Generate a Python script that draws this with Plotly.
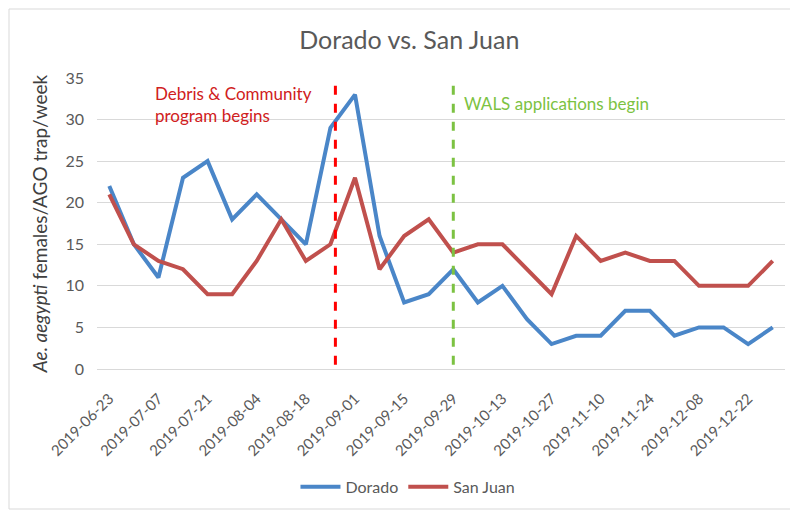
import plotly.graph_objects as go
import pandas as pd

weeks = pd.date_range("2019-06-23", periods=28, freq="7D").strftime("%Y-%m-%d").tolist()
dorado = [22, 15, 11, 23, 25, 18, 21, 18, 15, 29, 33, 16, 8, 9, 12, 8, 10, 6, 3, 4, 4, 7, 7, 4, 5, 5, 3, 5]
san_juan = [21, 15, 13, 12, 9, 9, 13, 18, 13, 15, 23, 12, 16, 18, 14, 15, 15, 12, 9, 16, 13, 14, 13, 13, 10, 10, 10, 13]
event_dates = ["2019-08-26 10:00", "2019-09-29"]
event_labels = ["Debris & Community<br>program begins", "WALS applications begin"]
event_colors = ["#FF0000", "#7CC242"]
label_colors = ["#D02020", "#7CC242"]

FONT = "Lato"
GRAY = "#595959"

W, H = 790, 502
L, R, T, B = 89, 13, 70, 141
PW, PH = W - L - R, H - T - B

fig = go.Figure()
fig.add_trace(go.Scatter(x=weeks, y=dorado, mode="lines", name="Dorado",
                         line=dict(color="#4A86C8", width=4)))
fig.add_trace(go.Scatter(x=weeks, y=san_juan, mode="lines", name="San Juan",
                         line=dict(color="#C0504D", width=4)))

for d, c in zip(event_dates, event_colors):
    fig.add_shape(type="line", xref="x", yref="y", x0=d, x1=d, y0=0.5, y1=35.4,
                  line=dict(color=c, width=3, dash="dash"))

fig.add_annotation(x="2019-07-05 12:00", y=31.8, xref="x", yref="y", text=event_labels[0],
                   showarrow=False, xanchor="left", align="left",
                   font=dict(family=FONT, size=17, color=label_colors[0]))
fig.add_annotation(x="2019-10-01 12:00", y=31.9, xref="x", yref="y", text=event_labels[1],
                   showarrow=False, xanchor="left", align="left",
                   font=dict(family=FONT, size=17, color=label_colors[1]))

# chart border
fig.add_shape(type="rect", xref="paper", yref="paper",
              x0=-(L - 1) / PW, x1=(PW + R - 0) / PW, y0=-(B - 1) / PH, y1=1 + (T - 1) / PH,
              line=dict(color="#D9D9D9", width=1))

fig.update_layout(
    width=W, height=H,
    margin=dict(l=L, r=R, t=T, b=B, autoexpand=False),
    paper_bgcolor="white", plot_bgcolor="white",
    title=dict(text="Dorado vs. San Juan", x=0.508, xanchor="center", y=1 - 32 / H, yanchor="middle",
               font=dict(family=FONT, size=25, color=GRAY)),
    font=dict(family=FONT, color=GRAY),
    showlegend=True,
    legend=dict(orientation="h", x=0.452, xanchor="center", y=-0.405, yanchor="middle",
                font=dict(family=FONT, size=16, color=GRAY), itemwidth=40),
)
fig.update_xaxes(
    type="date", automargin=False,
    range=["2019-06-19 12:00", "2020-01-01 12:00"],
    tick0="2019-06-23", dtick=14 * 86400000, tickformat="%Y-%m-%d",
    tickangle=-45, tickfont=dict(family=FONT, size=15, color=GRAY),
    ticklabelstandoff=14,
    showgrid=False, showline=True, linecolor="#D9D9D9", linewidth=1,
    ticks="", zeroline=False,
)
fig.update_yaxes(
    range=[0, 35], dtick=5, showgrid=True, gridcolor="#D9D9D9", gridwidth=1,
    automargin=False,
    zeroline=False, tickfont=dict(family=FONT, size=16, color=GRAY),
    ticklabelstandoff=12,
    title=dict(text="<i>Ae. aegypti</i> females/AGO trap/week",
               font=dict(family=FONT, size=19, color="#404040"), standoff=12),
    ticks="", showline=False,
)

fig.write_html("out.html")
